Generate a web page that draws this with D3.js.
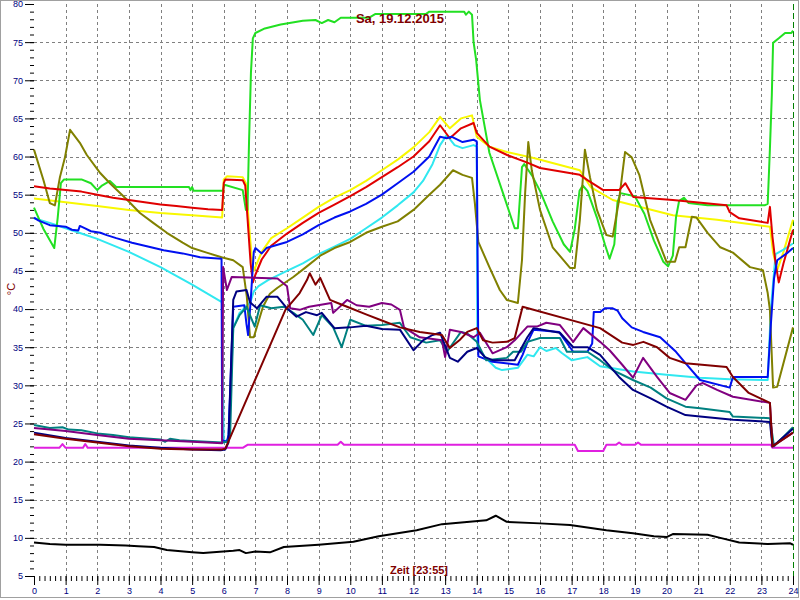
<!DOCTYPE html>
<html><head><meta charset="utf-8">
<script src="https://cdn.jsdelivr.net/npm/d3@7"></script>
<style>
html,body{margin:0;padding:0;background:#fff;}
svg{display:block;font-family:"Liberation Sans",Arial,sans-serif;}
</style></head>
<body><svg id="chart" width="800" height="600"></svg>
<script>
// ---------- data (hour, °C) ----------
const titleText = "Sa, 19.12.2015";
const xAxisTitle = "Zeit [23:55]";
const yAxisTitle = "°C";
const hourTicks = d3.range(0, 25);
const tempTicks = d3.range(5, 81, 5);

const green = [[0,53.3],[0.3,50.5],[0.64,48.0],[0.75,52],[0.85,56.5],[0.95,57.0],[1.5,57.0],[1.8,56.5],[2.0,55.6],[2.15,56.2],[2.4,56.8],[2.6,56.0],[4.9,56.0],[4.95,55.6],[5.0,56.0],[5.05,55.5],[5.97,55.5],[6.02,56.3],[6.6,55.6],[6.7,53.0],[6.75,53.0],[6.8,62],[6.86,71],[6.92,75.5],[7.0,76.2],[7.3,76.8],[7.8,77.3],[8.5,77.8],[8.9,77.9],[9.1,77.5],[9.3,77.9],[9.5,77.6],[9.7,78.2],[10.6,78.2],[10.8,78.7],[12.4,78.7],[12.5,79.0],[13.6,79.0],[13.66,78.6],[13.75,79.0],[13.85,78.6],[13.9,75],[13.98,72.7],[14.1,67.4],[14.4,60.5],[14.83,55.2],[15.2,50.6],[15.3,50.6],[15.43,58.6],[15.5,59.0],[15.6,58.4],[15.75,57.5],[16.0,55.5],[16.4,51.5],[16.75,48.5],[16.95,47.5],[17.1,50.5],[17.25,55.5],[17.35,56.2],[17.5,55.5],[17.8,52],[18.05,48.5],[18.2,46.6],[18.35,48.5],[18.45,54],[18.55,55.2],[19.0,54.8],[19.3,52.5],[19.6,49],[19.9,46.2],[20.05,45.6],[20.2,47],[20.3,52],[20.4,54.2],[20.55,54.6],[20.7,53.9],[21.3,53.6],[23.1,53.6],[23.2,53.8],[23.27,61],[23.33,68],[23.37,74.9],[23.55,75.5],[23.75,76.2],[23.95,76.2],[24,76.5]];
const olive = [[0,60.9],[0.3,56.9],[0.5,53.9],[0.66,53.6],[0.82,57.3],[0.98,59.9],[1.14,63.5],[1.45,61.8],[1.67,60.2],[2.1,57.8],[2.4,56.5],[2.95,54.3],[3.35,52.6],[3.77,51.3],[4.2,50.0],[4.7,48.7],[5.0,48.0],[5.46,47.4],[5.93,46.8],[6.3,46.4],[6.6,45.5],[6.73,41.6],[6.83,36.3],[6.95,36.3],[7.24,40.3],[7.46,42],[7.7,42.8],[8.2,44.2],[8.6,45.5],[9.05,47.0],[9.5,48.0],[10,48.8],[10.5,50.0],[11,50.8],[11.5,51.5],[12,53.0],[12.5,55.0],[12.84,56.3],[13.25,58.2],[13.55,57.6],[13.85,57.2],[13.94,53.9],[14.05,48.8],[14.4,45.5],[14.73,42.5],[14.95,41.2],[15.3,40.8],[15.43,46.4],[15.53,55.2],[15.63,61.9],[15.74,58.2],[16.0,53.0],[16.4,48.1],[16.95,45.4],[17.1,45.4],[17.26,51.7],[17.42,60.9],[17.58,57.3],[17.8,53.0],[18.1,49.7],[18.3,49.5],[18.5,54.3],[18.69,60.6],[18.9,59.9],[19.14,57.6],[19.48,51.7],[20.0,46.2],[20.27,46.2],[20.4,48.1],[20.6,48.1],[20.8,52.1],[20.95,52.0],[21.3,50.0],[21.7,48.1],[22.1,47.4],[22.64,45.5],[23.05,45.1],[23.2,42.1],[23.27,39.9],[23.37,29.7],[23.5,29.8],[24,37.6]];
const red = [[0,56.1],[0.5,55.8],[1,55.6],[1.5,55.4],[2,55.0],[2.5,54.6],[3,54.3],[3.5,54.0],[4,53.7],[4.5,53.5],[5,53.3],[5.5,53.1],[5.95,53.0],[6.0,56.5],[6.05,57.0],[6.6,56.9],[6.68,56.2],[6.75,52],[6.85,46],[6.92,43.5],[7.0,44.5],[7.2,46.5],[7.5,48.3],[8,49.9],[8.5,51.3],[9,52.6],[9.5,53.7],[10,54.8],[10.5,56.0],[11,57.3],[11.5,58.6],[12,60.0],[12.5,62.0],[12.84,64.1],[13.15,62.4],[13.5,63.7],[13.9,64.4],[14.0,63.1],[14.4,61.3],[14.96,60.2],[15.6,59.2],[16.0,58.5],[17.26,57.6],[17.5,56.9],[18.0,55.6],[18.5,55.6],[18.7,56.5],[18.95,54.7],[20.2,54.3],[21.9,53.6],[22.0,52.7],[22.3,51.9],[23.2,51.3],[23.27,53.4],[23.35,49.5],[23.45,46],[23.55,43.5],[23.7,46],[24,50.4]];
const yellow = [[0,54.5],[1,54.0],[2,53.5],[3,53.0],[4,52.6],[5,52.3],[5.95,52.0],[6.0,57.0],[6.1,57.4],[6.6,57.3],[6.7,56.5],[6.78,52],[6.88,47],[6.95,45],[7.05,46],[7.2,47.5],[7.5,49.3],[8,50.6],[8.5,52.0],[9,53.4],[9.5,54.6],[10,55.6],[10.5,56.8],[11,58.2],[11.5,59.6],[12,61.2],[12.5,63.2],[12.84,65.2],[13.15,63.7],[13.5,65.0],[13.85,65.4],[14.0,62.6],[14.4,61.3],[14.95,60.6],[15.8,59.8],[17.26,58.2],[17.6,56.0],[18.3,54.3],[20.2,52.3],[21.6,51.7],[23.27,50.8],[23.37,47.4],[23.5,45.1],[23.7,47.5],[24,51.7]];
const blue = [[0,52],[0.15,51.6],[0.5,51.0],[1.0,50.8],[1.2,50.4],[1.4,50.3],[1.45,50.9],[1.6,50.6],[1.8,50.2],[2.1,50.0],[2.3,49.7],[2.6,49.3],[3.1,48.7],[3.3,48.5],[3.7,48.1],[4.1,47.7],[4.7,47.3],[5.25,46.8],[5.93,46.6],[5.95,22.8],[6.1,22.6],[6.15,23.5],[6.3,40.3],[6.65,40.5],[6.72,38],[6.77,36.6],[6.85,41],[6.95,47.5],[7.0,48.0],[7.2,47.3],[7.35,48.0],[8,48.8],[8.5,49.8],[9,51.0],[9.5,52.0],[10,52.8],[10.5,53.8],[11,55.0],[11.5,56.5],[12,58.0],[12.5,60.0],[12.84,62.6],[13.05,62.4],[13.2,62.6],[13.55,61.9],[13.9,62.2],[14.0,62.0],[14.05,33.8],[14.5,33.1],[15.3,32.7],[15.45,34.0],[15.6,35.6],[15.8,37.3],[16.6,37.0],[17.05,34.4],[17.5,34.4],[17.65,35.5],[17.7,39.6],[17.9,39.6],[18.05,40.1],[18.3,40.1],[18.45,39.8],[18.6,38.8],[18.9,37.6],[19.26,37.0],[19.8,36.3],[20.3,34.4],[20.6,32.9],[21.06,30.7],[22.0,29.7],[22.1,31.1],[23.2,31.1],[23.3,38],[23.4,44],[23.5,46.4],[23.8,47.3],[24,48.0]];
const cyan = [[0,51.9],[0.5,51.3],[1,50.6],[1.5,49.9],[2,49.2],[3,47.5],[4,45.5],[5,43.2],[5.94,40.9],[6.0,22.5],[6.15,23],[6.3,37.5],[6.5,39.5],[6.7,40.3],[6.85,41.0],[6.95,42.3],[7.1,43.0],[7.4,43.8],[8,45.0],[8.5,46.0],[9,47.2],[9.5,48.2],[10,49.2],[10.5,50.6],[11,52.0],[11.5,53.6],[12,55.3],[12.3,56.8],[12.6,59.0],[12.84,61.5],[13.05,62.8],[13.3,61.5],[13.55,61.1],[13.9,61.5],[14.0,61.3],[14.02,35.0],[14.3,33.5],[14.6,32.3],[14.8,32.0],[15.3,32.3],[15.6,34.0],[15.8,33.8],[16.0,35.0],[16.2,34.5],[16.5,34.9],[16.7,34.2],[17.0,33.3],[17.5,33.7],[17.9,32.5],[18.2,32.3],[18.95,31.8],[20,31.4],[21.06,31.0],[22,30.8],[23.2,30.7],[23.3,40],[23.45,47.2],[23.7,47.8],[24,48.6]];
const navy = [[0,23.8],[1,23.1],[2,22.6],[3,22.1],[4,21.8],[5,21.6],[5.9,21.5],[6.05,21.6],[6.15,22.5],[6.3,41.2],[6.4,42.3],[6.72,42.5],[6.83,40.9],[7.05,40.1],[7.35,41.6],[7.7,41.6],[8.0,40.1],[8.3,39.0],[8.6,39.6],[8.95,39.2],[9.1,39.5],[9.5,37.5],[10,37.6],[10.5,37.8],[11,37.4],[11.57,37.3],[12.0,34.6],[12.3,35.9],[12.6,36.6],[12.84,36.9],[13.15,33.6],[13.4,33.1],[13.7,34.4],[14.0,34.9],[14.26,33.7],[14.5,33.3],[15.2,33.3],[15.6,36.3],[15.8,37.5],[16.63,36.9],[17.05,35.0],[17.5,35.0],[17.9,34.0],[18.5,31.1],[18.94,29.4],[19.5,28.3],[20,27.2],[20.6,26.1],[21.06,25.9],[22.1,25.5],[23.27,25.2],[23.35,22.0],[23.5,22.5],[24,24.3]];
const teal = [[0,24.8],[0.5,24.4],[0.9,24.5],[1.1,24.2],[1.5,24.1],[2,23.7],[2.5,23.5],[3,23.2],[4,22.9],[4.15,22.6],[4.3,23.0],[4.6,22.8],[5,22.7],[5.95,22.5],[6.1,22.6],[6.2,23.2],[6.3,37.5],[6.5,39.2],[6.72,40.3],[6.98,37.7],[7.15,40.5],[7.5,40.1],[7.9,40.3],[8.2,39.5],[8.5,38.6],[8.83,36.6],[9.1,39.2],[9.46,37.6],[9.73,35.0],[10,38.6],[10.5,37.8],[11,37.9],[11.57,38.2],[11.9,36.3],[12.4,35.6],[12.84,35.9],[13.06,34.4],[13.5,37.0],[13.7,36.8],[14.0,35.7],[14.3,33.3],[14.95,33.6],[15.15,34.4],[15.4,34.4],[15.6,35.7],[16.0,36.2],[16.63,36.2],[16.85,34.4],[17.5,34.4],[17.9,33.3],[18.3,32.0],[18.94,30.7],[19.5,29.7],[20,28.3],[20.6,27.2],[21.06,27.0],[22.0,26.5],[22.1,25.9],[23.27,25.7],[23.4,22.0],[24,24.5]];
const purple = [[0,24.4],[1,24.0],[2,23.5],[3,23.0],[4,22.8],[5,22.6],[5.95,22.4],[5.98,45.5],[6.1,42.5],[6.25,44.2],[7.7,44.0],[8.0,43.0],[8.1,40.1],[8.4,39.9],[8.7,40.3],[9.4,40.8],[9.46,39.5],[9.9,41.2],[10.2,40.5],[10.6,40.3],[11,40.8],[11.3,40.6],[11.57,39.9],[11.7,37.6],[12.2,36.3],[12.9,35.9],[13.0,33.7],[13.15,37.3],[13.5,37.0],[13.9,36.3],[14.1,36.9],[14.5,34.2],[14.95,35.0],[15.2,35.9],[15.6,37.7],[15.9,37.7],[16.2,38.2],[16.63,37.9],[17.05,35.7],[17.37,37.5],[17.9,35.7],[18.2,34.6],[18.6,32.7],[18.94,31.0],[19.26,33.6],[19.7,31.1],[20.1,29.0],[20.6,28.1],[20.95,30.0],[21.15,30.3],[21.6,29.4],[22.1,28.5],[23.27,27.7],[23.35,22.0],[24,23.8]];
const maroon = [[0,23.6],[1,23.0],[2,22.5],[3,22.0],[4,21.7],[5,21.6],[5.95,21.6],[6.05,21.7],[7.95,39.9],[8.4,42.1],[8.63,43.8],[8.72,44.7],[8.9,43.2],[9.05,44.1],[9.36,41.2],[9.6,40.8],[9.9,40.3],[10.5,39.3],[11,38.5],[11.57,37.6],[12.2,37.0],[12.9,36.6],[13.15,34.9],[13.45,35.9],[13.7,37.0],[14.0,37.5],[14.2,35.9],[14.5,35.6],[14.95,35.7],[15.2,36.2],[15.45,40.3],[17.9,37.5],[18.6,35.6],[18.95,35.3],[19.27,35.7],[19.7,35.0],[20.1,33.6],[20.6,32.9],[21.9,32.4],[22.1,31.1],[22.6,29.0],[23.27,27.7],[23.35,22.0],[24,23.8]];
const magenta = [[0,21.8],[0.8,21.8],[0.9,22.3],[1.0,21.8],[1.55,21.8],[1.62,22.3],[1.7,21.8],[6.6,21.8],[6.75,22.2],[9.6,22.2],[9.7,22.6],[9.8,22.2],[17.1,22.2],[17.2,21.4],[18.0,21.4],[18.1,22.2],[18.4,22.2],[18.5,22.5],[18.6,22.2],[19.0,22.2],[19.1,22.5],[19.2,22.2],[23.3,22.2],[23.35,21.8],[24,21.8]];
const black = [[0,9.4],[0.5,9.2],[1,9.1],[2.1,9.1],[2.9,9.0],[3.3,8.9],[3.8,8.8],[4.2,8.4],[5.0,8.1],[5.35,8.0],[6.3,8.3],[6.5,8.4],[6.7,8.0],[7.0,8.2],[7.46,8.1],[7.9,8.8],[9.0,9.1],[10.1,9.5],[10.9,10.2],[12.1,11.0],[12.9,11.8],[14.3,12.3],[14.6,12.9],[14.95,12.1],[16.0,11.9],[16.95,11.7],[18.1,11.0],[18.94,10.6],[19.6,10.2],[20.0,10.1],[20.2,10.5],[21.3,10.4],[21.7,10.0],[22.3,9.4],[23.2,9.2],[23.9,9.3],[24,9.1]];

const seriesOrder = ["yellow","cyan","green","olive","red","blue","magenta","teal","purple","navy","maroon","black"];
const seriesData = {green, olive, red, yellow, blue, cyan, navy, teal, purple, maroon, magenta, black};

// ---------- styles ----------
const colors = {green:"#22e022", olive:"#808000", red:"#e00000", yellow:"#f8f800", blue:"#0010f0", cyan:"#30e8f0",
  navy:"#000080", teal:"#008080", purple:"#800080", maroon:"#800000", magenta:"#e020e0", black:"#000000"};

const svg = d3.select("#chart");
const x = d3.scaleLinear().domain([0, 24]).range([34, 793]);
const y = d3.scaleLinear().domain([5, 80]).range([576, 4]);

// frame
svg.append("rect").attr("x",0.5).attr("y",0.5).attr("width",798).attr("height",597)
  .attr("fill","#fff").attr("stroke","#a0a0a0");

// grid
const grid = svg.append("g").attr("stroke","#808080").attr("stroke-dasharray","3,3").attr("stroke-width",1);
grid.selectAll("line.v").data(d3.range(1,24)).join("line")
  .attr("x1",d=>Math.round(x(d))+0.5).attr("x2",d=>Math.round(x(d))+0.5).attr("y1",y(80)).attr("y2",y(5));
grid.selectAll("line.h").data(d3.range(10,80,5)).join("line")
  .attr("y1",d=>Math.round(y(d))+0.5).attr("y2",d=>Math.round(y(d))+0.5).attr("x1",x(0)).attr("x2",x(24));
// current time marker
svg.append("line").attr("x1",Math.round(x(24))+0.5).attr("x2",Math.round(x(24))+0.5)
  .attr("y1",y(80)).attr("y2",y(5)).attr("stroke","#008000").attr("stroke-dasharray","6,3");

// axes
const yMajor = svg.append("g").attr("transform",`translate(${x(0)},0)`)
  .call(d3.axisLeft(y).tickValues(tempTicks).tickSize(9).tickPadding(2));
const yMinor = svg.append("g").attr("transform",`translate(${x(0)},0)`)
  .call(d3.axisLeft(y).tickValues(d3.range(5,81,1)).tickSize(4).tickFormat(""));
const xMajor = svg.append("g").attr("transform",`translate(0,${y(5)})`)
  .call(d3.axisBottom(x).tickValues(hourTicks).tickSize(9).tickPadding(3));
const xMinor = svg.append("g").attr("transform",`translate(0,${y(5)})`)
  .call(d3.axisBottom(x).tickValues(d3.range(0,24.01,1/6)).tickSize(5).tickFormat(""));
[yMajor,yMinor,xMajor,xMinor].forEach(g=>{
  g.select(".domain").remove();
  g.selectAll(".tick line").attr("stroke","#000");
  g.selectAll("text").attr("fill","#000080").attr("font-size",9).attr("font-family","'Liberation Sans',Arial,sans-serif");
});

// lines
const line = d3.line().x(d=>x(d[0])).y(d=>y(d[1]));
const lg = svg.append("g").attr("fill","none").attr("stroke-width",2).attr("stroke-linejoin","round");
seriesOrder.forEach(k=>{
  lg.append("path").datum(seriesData[k]).attr("d",line).attr("stroke",colors[k]);
});

// texts
svg.append("text").attr("x",400).attr("y",23).attr("text-anchor","middle")
  .attr("font-size",13).attr("font-weight","bold").attr("fill","#800000").text(titleText);
svg.append("text").attr("x",419).attr("y",574).attr("text-anchor","middle")
  .attr("font-size",11).attr("font-weight","bold").attr("fill","#800000").text(xAxisTitle);
svg.append("text").attr("transform","translate(14.5,289) rotate(-90)").attr("text-anchor","middle")
  .attr("font-size",11).attr("fill","#800000").text(yAxisTitle);
</script></body></html>
